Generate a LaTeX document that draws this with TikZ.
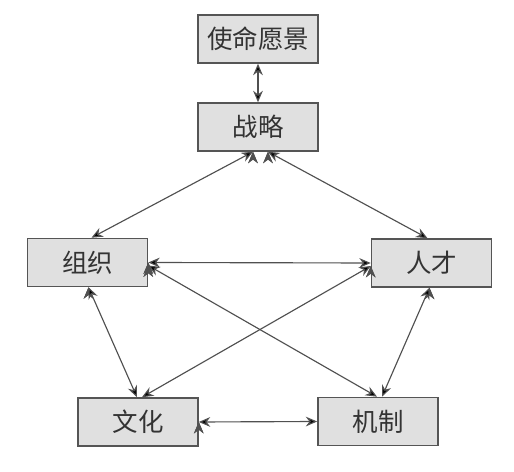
\documentclass[tikz,border=0pt]{standalone}
\usepackage{fontspec}
\newfontfamily\cjk{Noto Sans CJK SC}
\usetikzlibrary{arrows.meta}
\definecolor{boxfill}{HTML}{E0E0E0}
\definecolor{boxline}{HTML}{555555}
\definecolor{arrowline}{HTML}{505050}
\begin{document}
\begin{tikzpicture}[x=0.02cm,y=-0.02cm,
    main node/.style={rectangle,draw=boxline,line width=0.9pt,fill=boxfill,
        minimum width=2.4cm,minimum height=0.96cm,inner sep=0pt,
        text=black!80,font=\cjk\fontsize{14.5}{16}\selectfont},
    link/.style={line width=0.65pt,draw=arrowline,
        {Stealth[length=6.5pt,width=5.5pt]}-{Stealth[length=6.5pt,width=5.5pt]}}]
                \useasboundingbox (0,0) rectangle (514,472);
                \node[main node] at (258, 39) (vision) {使命愿景};
                \node[main node] at (258, 127) (strategy) {战略};
                \node[main node] at (87.5, 262.5) (org) {组织};
                \node[main node] at (431.5, 263) (talent) {人才};
                \node[main node] at (138, 422) (culture) {文化};
                \node[main node] at (378, 421.5) (mech) {机制};

                \path[link] (vision) edge (strategy);
                \path[link] ([xshift=-5*0.02cm]strategy.south) edge ([xshift=4*0.02cm]org.north);
                \path[link] ([xshift=10*0.02cm]strategy.south) edge ([xshift=-4*0.02cm]talent.north);
                \path[link] (org.east) edge (talent.west);
                \path[link] ([yshift=-3*0.02cm]org.east) edge ([xshift=-1*0.02cm]mech.north);
                \path[link] ([yshift=-3*0.02cm]talent.west) edge ([xshift=4*0.02cm]culture.north);
                \path[link] ([xshift=1*0.02cm]org.south) edge ([xshift=-1*0.02cm]culture.north);
                \path[link] ([xshift=-2*0.02cm]talent.south) edge ([xshift=4*0.02cm]mech.north);
                \path[link] (culture.east) edge (mech.west);
            \end{tikzpicture}
\end{document}
